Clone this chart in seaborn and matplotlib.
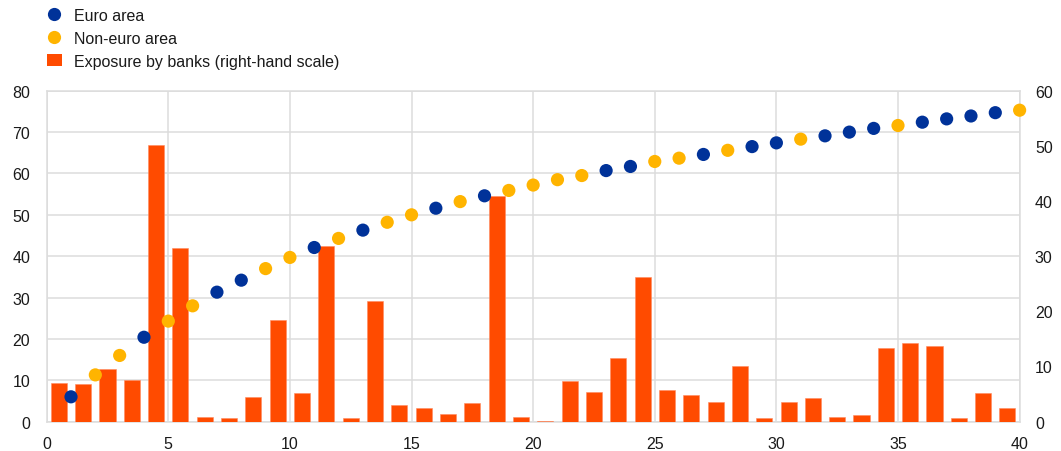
import numpy as np
import pandas as pd
import matplotlib
matplotlib.use("Agg")
import matplotlib.pyplot as plt
import seaborn as sns
from matplotlib.lines import Line2D
from matplotlib.patches import Patch

# ── Data ────────────────────────────────────
# share of cumulative exposure (left-hand scale), one dot per counterparty rank
dot_rank = list(range(1, 41))
dot_value = [6.0, 11.3, 16.0, 20.4, 24.3, 28.0, 31.3, 34.2, 37.0, 39.7,
             42.1, 44.3, 46.3, 48.2, 50.0, 51.6, 53.2, 54.6, 55.9, 57.2,
             58.5, 59.5, 60.7, 61.7, 62.9, 63.7, 64.6, 65.6, 66.5, 67.4,
             68.3, 69.1, 70.0, 70.9, 71.6, 72.4, 73.2, 73.9, 74.7, 75.3]
dot_area = ["E", "N", "N", "E", "N", "N", "E", "E", "N", "N",
            "E", "N", "E", "N", "N", "E", "N", "E", "N", "N",
            "N", "N", "E", "E", "N", "N", "E", "N", "E", "E",
            "N", "E", "E", "E", "N", "E", "E", "E", "E", "N"]
area_labels = {"E": "Euro area", "N": "Non-euro area"}

# exposure by banks (right-hand scale), one bar per rank, drawn between ticks
bar_pos = [r - 0.5 for r in dot_rank]
bar_value = [7.0, 6.8, 9.6, 7.6, 50.2, 31.4, 0.9, 0.6, 4.4, 18.4,
             5.2, 31.8, 0.7, 21.9, 3.1, 2.5, 1.4, 3.4, 40.9, 0.85,
             0.12, 7.3, 5.3, 11.5, 26.3, 5.8, 4.9, 3.6, 10.0, 0.6,
             3.6, 4.3, 0.85, 1.2, 13.3, 14.3, 13.7, 0.66, 5.2, 2.4]

BLUE = "#003299"
YELLOW = "#FFB400"
ORANGE = "#FF4B00"
GRID = "#dcdcdc"
FS = 11.5

dots = pd.DataFrame({"rank": dot_rank, "value": dot_value,
                     "area": [area_labels[a] for a in dot_area]})
bars = pd.DataFrame({"pos": bar_pos, "value": bar_value})

# ── Styling ─────────────────────────────────
sns.set_style("white")
plt.rcParams["font.family"] = ["Liberation Sans", "DejaVu Sans"]
plt.rcParams["font.size"] = FS
plt.rcParams["text.color"] = "#1a1a1a"

fig = plt.figure(figsize=(10.61, 4.52), dpi=100)
ax = fig.add_axes([0.044, 0.065, 0.917, 0.732])

# grid + left-hand scale
ax.set_xlim(0, 40)
ax.set_ylim(0, 80)
ax.set_xticks(range(0, 41, 5))
ax.set_yticks(range(0, 81, 10))
ax.grid(True, color=GRID, linewidth=1.1)
ax.tick_params(length=0, labelsize=FS, colors="#1a1a1a", pad=12)
ax.tick_params(axis="x", pad=10)
for s in ax.spines.values():
    s.set_color(GRID)
    s.set_linewidth(1.1)

# bars on right-hand scale
ax2 = ax.twinx()
sns.barplot(data=bars, x="pos", y="value", native_scale=True, width=0.66,
            color=ORANGE, saturation=1, edgecolor="#ff8a60", linewidth=0.4,
            ax=ax2)
ax2.set_xlim(0, 40)
ax2.set_ylim(0, 60)
ax2.set_yticks(range(0, 61, 10))
ax2.set_xlabel("")
ax2.set_ylabel("")
ax2.tick_params(length=0, labelsize=FS, colors="#1a1a1a", pad=11)
for s in ax2.spines.values():
    s.set_visible(False)

# dots on top, left-hand scale
ax3 = ax.twinx()
sns.scatterplot(data=dots, x="rank", y="value", hue="area",
                palette={"Euro area": BLUE, "Non-euro area": YELLOW},
                s=90, linewidth=0, clip_on=False, legend=False, ax=ax3, zorder=5)
ax3.set_xlim(0, 40)
ax3.set_ylim(0, 80)
ax3.set_yticks([])
ax3.set_xlabel("")
ax3.set_ylabel("")
for s in ax3.spines.values():
    s.set_visible(False)
ax.set_xlabel("")
ax.set_ylabel("")

# ── Legend ──────────────────────────────────
handles = [
    Line2D([], [], marker="o", linestyle="", markersize=9.5,
           markerfacecolor=BLUE, markeredgewidth=0),
    Line2D([], [], marker="o", linestyle="", markersize=9.5,
           markerfacecolor=YELLOW, markeredgewidth=0),
    Patch(facecolor=ORANGE, edgecolor="none"),
]
labels = ["Euro area", "Non-euro area", "Exposure by banks (right-hand scale)"]
fig.legend(handles, labels, loc="upper left", bbox_to_anchor=(0.0445, 0.981),
           frameon=False, fontsize=FS, handlelength=0.9, handleheight=0.85,
           handletextpad=0.8, labelspacing=0.5, borderpad=0, borderaxespad=0)

fig.savefig("out.png", dpi=100)
